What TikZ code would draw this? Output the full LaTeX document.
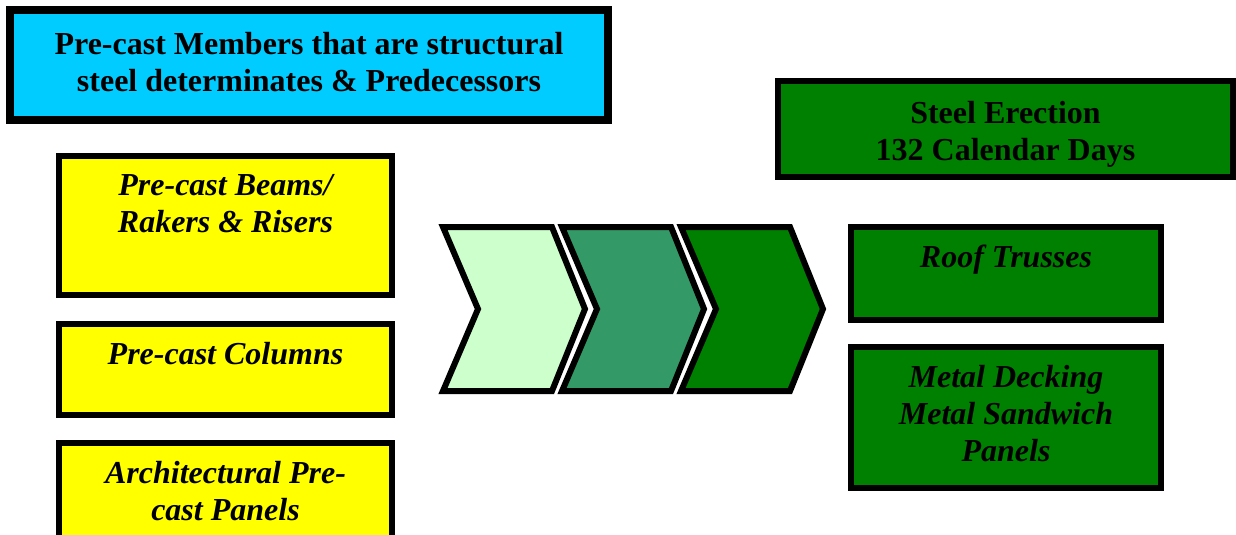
\documentclass[tikz,border=0pt]{standalone}
\usepackage{fontspec}
\setmainfont{Liberation Serif}
\usetikzlibrary{positioning}
\definecolor{skyfill}{HTML}{00CCFF}
\definecolor{yellowfill}{HTML}{FFFF00}
\definecolor{greenfill}{HTML}{008000}
\definecolor{chevlight}{HTML}{CCFFCC}
\definecolor{chevmid}{HTML}{339966}

\begin{document}
\begin{tikzpicture}[x=1pt, y=-1pt,
    box/.style={draw, line width=6pt, line join=miter, inner sep=0pt},
    headtext/.style={inner sep=0pt, align=center, font=\bfseries\fontsize{32}{37}\selectfont},
    boxtext/.style={inner sep=0pt, align=center, font=\bfseries\itshape\fontsize{32}{37}\selectfont}]
    \useasboundingbox (0,0) rectangle (1236,535);
    % heading boxes
    \node (members) [box, fill=skyfill, line width=8pt, minimum width=598pt, minimum height=110pt] at (309,65) {};
    \node (erection) [box, fill=greenfill, minimum width=455pt, minimum height=96pt] at (1005.5,129) {};
    \node (memberstext) [headtext, below=26pt of members.north] {Pre-cast Members that are structural\\steel determinates \& Predecessors};
    \node (erectiontext) [headtext, below=23pt of erection.north] {Steel Erection\\132 Calendar Days};
    % pre-cast members
    \node (beams) [box, fill=yellowfill, minimum width=333pt, minimum height=139pt] at (225.5,225.5) {};
    \node (columns) [box, fill=yellowfill, minimum width=333pt, minimum height=91pt] at (225.5,369.5) {};
    \node (panels) [box, fill=yellowfill, minimum width=333pt, minimum height=117pt] at (225.5,501.5) {};
    \node (beamstext) [boxtext, below=21pt of beams.north] {Pre-cast Beams/\\Rakers \& Risers};
    \node (columnstext) [boxtext, below=21pt of columns.north] {Pre-cast Columns};
    \node (panelstext) [boxtext, below=21pt of panels.north] {Architectural Pre-\\cast Panels};
    % steel members
    \node (trusses) [box, fill=greenfill, minimum width=310pt, minimum height=93pt] at (1006,273.5) {};
    \node (decking) [box, fill=greenfill, minimum width=310pt, minimum height=141pt] at (1006,417.5) {};
    \node (trussestext) [boxtext, below=21pt of trusses.north] {Roof Trusses};
    \node (deckingtext) [boxtext, below=21pt of decking.north] {Metal Decking\\Metal Sandwich\\Panels};
    % chevrons
    \foreach \shade [count=\i from 0] in {chevlight,chevmid,greenfill}
        \draw[line width=6pt, line join=miter, fill=\shade, shift={(\i*119,0)}]
            (443,227) -- (552,227) -- (585,309) -- (552,391) -- (443,391) -- (478,309) -- cycle;
\end{tikzpicture}
\end{document}
